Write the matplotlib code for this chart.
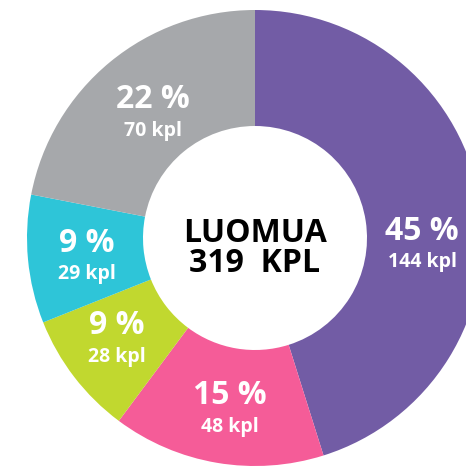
import matplotlib
matplotlib.use("Agg")
import matplotlib.pyplot as plt

categories = ["Purple", "Pink", "Green", "Cyan", "Gray"]
counts = [144, 48, 28, 29, 70]
percent_labels = ["45 %", "15 %", "9 %", "9 %", "22 %"]
count_labels = ["144 kpl", "48 kpl", "28 kpl", "29 kpl", "70 kpl"]
center_title = "LUOMUA"
center_total = "319  KPL"

colors = ["#725CA5", "#F55C98", "#C1D82F", "#2EC5D8", "#A6A8AB"]
# label block centres (pixels, relative to donut centre, y up)
label_offsets = [(167, -8), (-25, -173), (-138, -103), (-168, -20), (-102, 123)]

W, H = 466, 468
cx, cy = 255, H - 238
R_out, R_in = 228, 112

fig = plt.figure(figsize=(W / 100, H / 100), dpi=100)
ax = fig.add_axes([0, 0, 1, 1])
ax.pie(counts, colors=colors, startangle=90, counterclock=False,
       center=(cx, cy), radius=R_out,
       wedgeprops=dict(width=R_out - R_in, edgecolor="none"))
ax.set_xlim(0, W)
ax.set_ylim(0, H)
ax.set_aspect("equal")
ax.axis("off")

font = ["Open Sans", "DejaVu Sans"]
for (dx, dy), p, c in zip(label_offsets, percent_labels, count_labels):
    ax.text(cx + dx, cy + dy + 15, p, ha="center", va="center", color="white",
            fontsize=23, fontweight="bold", family=font)
    ax.text(cx + dx, cy + dy - 16, c, ha="center", va="center", color="white",
            fontsize=14, fontweight="bold", family=font)

ax.text(cx, cy + 5, center_title, ha="center", va="center", color="black",
        fontsize=23, fontweight="bold", family=font)
ax.text(cx, cy - 25, center_total, ha="center", va="center", color="black",
        fontsize=23, fontweight="bold", family=font)

fig.savefig("out.png", dpi=100, facecolor="white")
